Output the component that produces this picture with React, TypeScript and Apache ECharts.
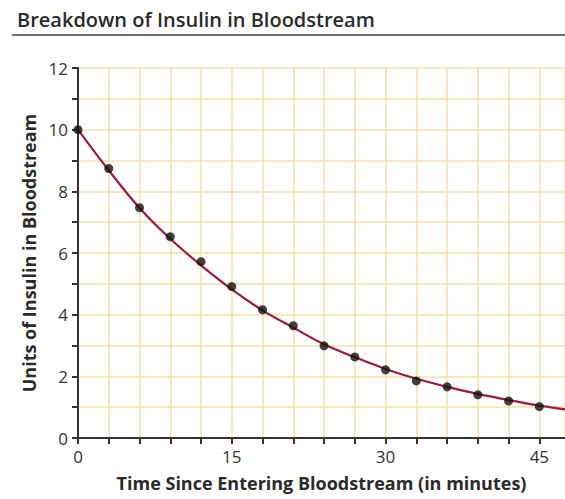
import React, { useEffect, useRef } from "react";
import * as echarts from "echarts";

const minutes = [0, 3, 6, 9, 12, 15, 18, 21, 24, 27, 30, 33, 36, 39, 42, 45];
const insulinUnits = [10, 8.74, 7.47, 6.53, 5.72, 4.91, 4.16, 3.64, 2.99, 2.63, 2.21, 1.85, 1.66, 1.4, 1.2, 1.02];
// fitted curve (passes through points, continues to the right edge)
const curveMinutes = [0, 3, 6, 9, 12, 15, 18, 21, 24, 27, 30, 33, 36, 39, 42, 45, 47.5];
const curveUnits = [10, 8.68, 7.46, 6.46, 5.6, 4.82, 4.14, 3.58, 3.04, 2.62, 2.24, 1.92, 1.66, 1.43, 1.23, 1.05, 0.93];

const titleText = "Breakdown of Insulin in Bloodstream";
const xAxisTitle = "Time Since Entering Bloodstream (in minutes)";
const yAxisTitle = "Units of Insulin in Bloodstream";

const FONT = "'Open Sans', 'Noto Sans', sans-serif";

export default function App() {
  const ref = useRef<HTMLDivElement>(null);
  useEffect(() => {
    if (!ref.current) return;
    const chart = echarts.init(ref.current, undefined, { renderer: "svg" });
    chart.setOption({
      animation: false,
      backgroundColor: "#ffffff",
      textStyle: { fontFamily: FONT },
      title: {
        text: titleText,
        left: 12,
        top: 4,
        textStyle: { fontFamily: FONT, fontSize: 20, fontWeight: 600, color: "#2a2a2a" },
      },
      graphic: [
        {
          type: "line",
          shape: { x1: 12, y1: 35, x2: 565, y2: 35 },
          style: { stroke: "#6e6e6e", lineWidth: 2 },
        },
      ],
      grid: { left: 78, top: 68, right: 0, bottom: 61, containLabel: false },
      xAxis: {
        type: "value",
        min: 0,
        max: 47.5,
        interval: 3,
        name: xAxisTitle,
        nameLocation: "middle",
        nameGap: 36,
        nameTextStyle: { fontFamily: FONT, fontSize: 18, fontWeight: 700, color: "#2a2a2a" },
        axisLine: { show: true, lineStyle: { color: "#333333", width: 2 } },
        axisTick: { show: true, length: 6, lineStyle: { color: "#333333", width: 2 } },
        axisLabel: {
          fontSize: 17,
          color: "#333333",
          margin: 10,
          showMaxLabel: false,
          formatter: (v: number) => (v % 15 === 0 ? String(v) : ""),
        },
        splitLine: { show: true, lineStyle: { color: "#f7e0a8", width: 1.5 } },
      },
      yAxis: {
        type: "value",
        min: 0,
        max: 12,
        interval: 1,
        name: yAxisTitle,
        nameLocation: "middle",
        nameGap: 36,
        nameRotate: 90,
        nameTextStyle: { fontFamily: FONT, fontSize: 18, fontWeight: 700, color: "#2a2a2a" },
        axisLine: { show: true, lineStyle: { color: "#333333", width: 2 } },
        axisTick: { show: true, length: 6, lineStyle: { color: "#333333", width: 2 } },
        axisLabel: {
          fontSize: 17,
          color: "#333333",
          margin: 10,
          formatter: (v: number) => (v % 2 === 0 ? String(v) : ""),
        },
        splitLine: { show: true, lineStyle: { color: "#f7e0a8", width: 1.5 } },
      },
      series: [
        {
          type: "line",
          data: curveMinutes.map((m, i) => [m, curveUnits[i]]),
          smooth: 0.4,
          showSymbol: false,
          lineStyle: { color: "#9e1a3a", width: 2.2 },
          z: 3,
        },
        {
          type: "scatter",
          data: minutes.map((m, i) => [m, insulinUnits[i]]),
          symbolSize: 9,
          itemStyle: { color: "#111111" },
          z: 4,
        },
      ],
    });
    return () => chart.dispose();
  }, []);
  return <div ref={ref} style={{ position: "fixed", left: 0, top: 0, width: 565, height: 499 }} />;
}
